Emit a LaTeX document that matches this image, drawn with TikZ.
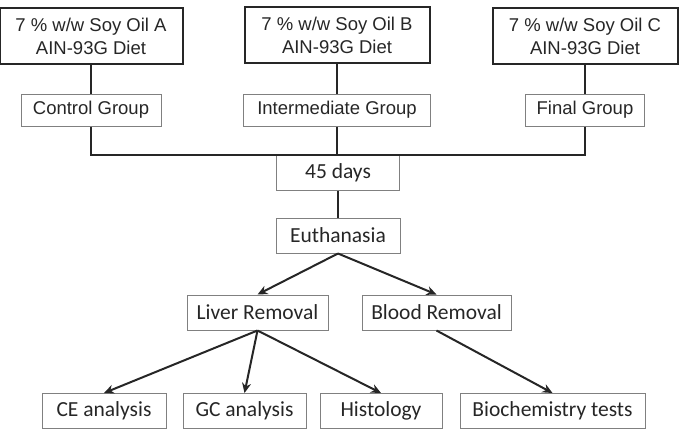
\documentclass[tikz,border=0pt]{standalone}
\usepackage{fontspec}
\setsansfont{Liberation Sans}
\newfontfamily\carlito{Carlito}
\usetikzlibrary{arrows.meta,positioning}

\begin{document}
\begin{tikzpicture}[
  x=1pt, y=-1pt,
  diet/.style={draw=black!85, line width=2pt, align=center, inner sep=0pt, minimum height=56pt, text=black!85, font=\sffamily\fontsize{18.5}{23}\selectfont},
  grp/.style={draw=black!50, line width=1pt, inner sep=0pt, minimum height=32pt, text=black!85, font=\sffamily\fontsize{18.5}{22}\selectfont},
  st/.style={draw=black!50, line width=1pt, inner sep=0pt, minimum height=35pt, text=black!85, font=\carlito\fontsize{21.5}{24}\selectfont},
  link/.style={draw=black!85, line width=2pt},
  >={Stealth[length=10pt,width=9pt]}
]
  \useasboundingbox (0,0) rectangle (687,432);

  % diets
  \node[diet, minimum width=183pt] (oilA) at (91,36)  {7 \% w/w Soy Oil A\\AIN-93G Diet};
  \node[diet, minimum width=185pt] (oilB) at (337,35) {7 \% w/w Soy Oil B\\AIN-93G Diet};
  \node[diet, minimum width=185pt] (oilC) at (585,36) {7 \% w/w Soy Oil C\\AIN-93G Diet};

  % groups
  \node[grp, minimum width=140pt] (ctrl)  at (91,110)  {Control Group};
  \node[grp, minimum width=187pt] (inter) at (337,110) {Intermediate Group};
  \node[grp, minimum width=119pt] (final) at (585,110) {Final Group};

  \node[st, minimum width=123pt] (days) at (338,172.5) {45 days};
  \node[st, minimum width=124pt] (euth) at (338,235.5) {Euthanasia};

  \node[st, minimum width=141pt] (liver) at (257.5,312.5) {Liver Removal};
  \node[st, minimum width=149pt] (blood) at (436.5,312.5) {Blood Removal};

  \node[st, minimum width=124pt] (ce)    at (104,411)   {CE analysis};
  \node[st, minimum width=123pt] (gc)    at (244.5,411) {GC analysis};
  \node[st, minimum width=122pt] (histo) at (381,411)   {Histology};
  \node[st, minimum width=185pt] (bio)   at (552.5,411) {Biochemistry tests};

  \draw[link] (oilA) -- (ctrl);
  \draw[link] (oilB) -- (inter);
  \draw[link] (oilC) -- (final);

  \draw[link] (ctrl.south) |- (days.north);
  \draw[link] (final.south) |- (days.north);
  \draw[link] (inter.south) -- (inter.south |- days.north);
  \draw[link] (days) -- (euth);

  \draw[link,->] (euth.south) -- (liver.north);
  \draw[link,->] (euth.south) -- (blood.north);

  \draw[link,->] (liver.south) -- (ce.north);
  \draw[link,->] (liver.south) -- (gc.north);
  \draw[link,->] (liver.south) -- (histo.north);
  \draw[link,->] (blood.south) -- (bio.north);
\end{tikzpicture}
\end{document}
